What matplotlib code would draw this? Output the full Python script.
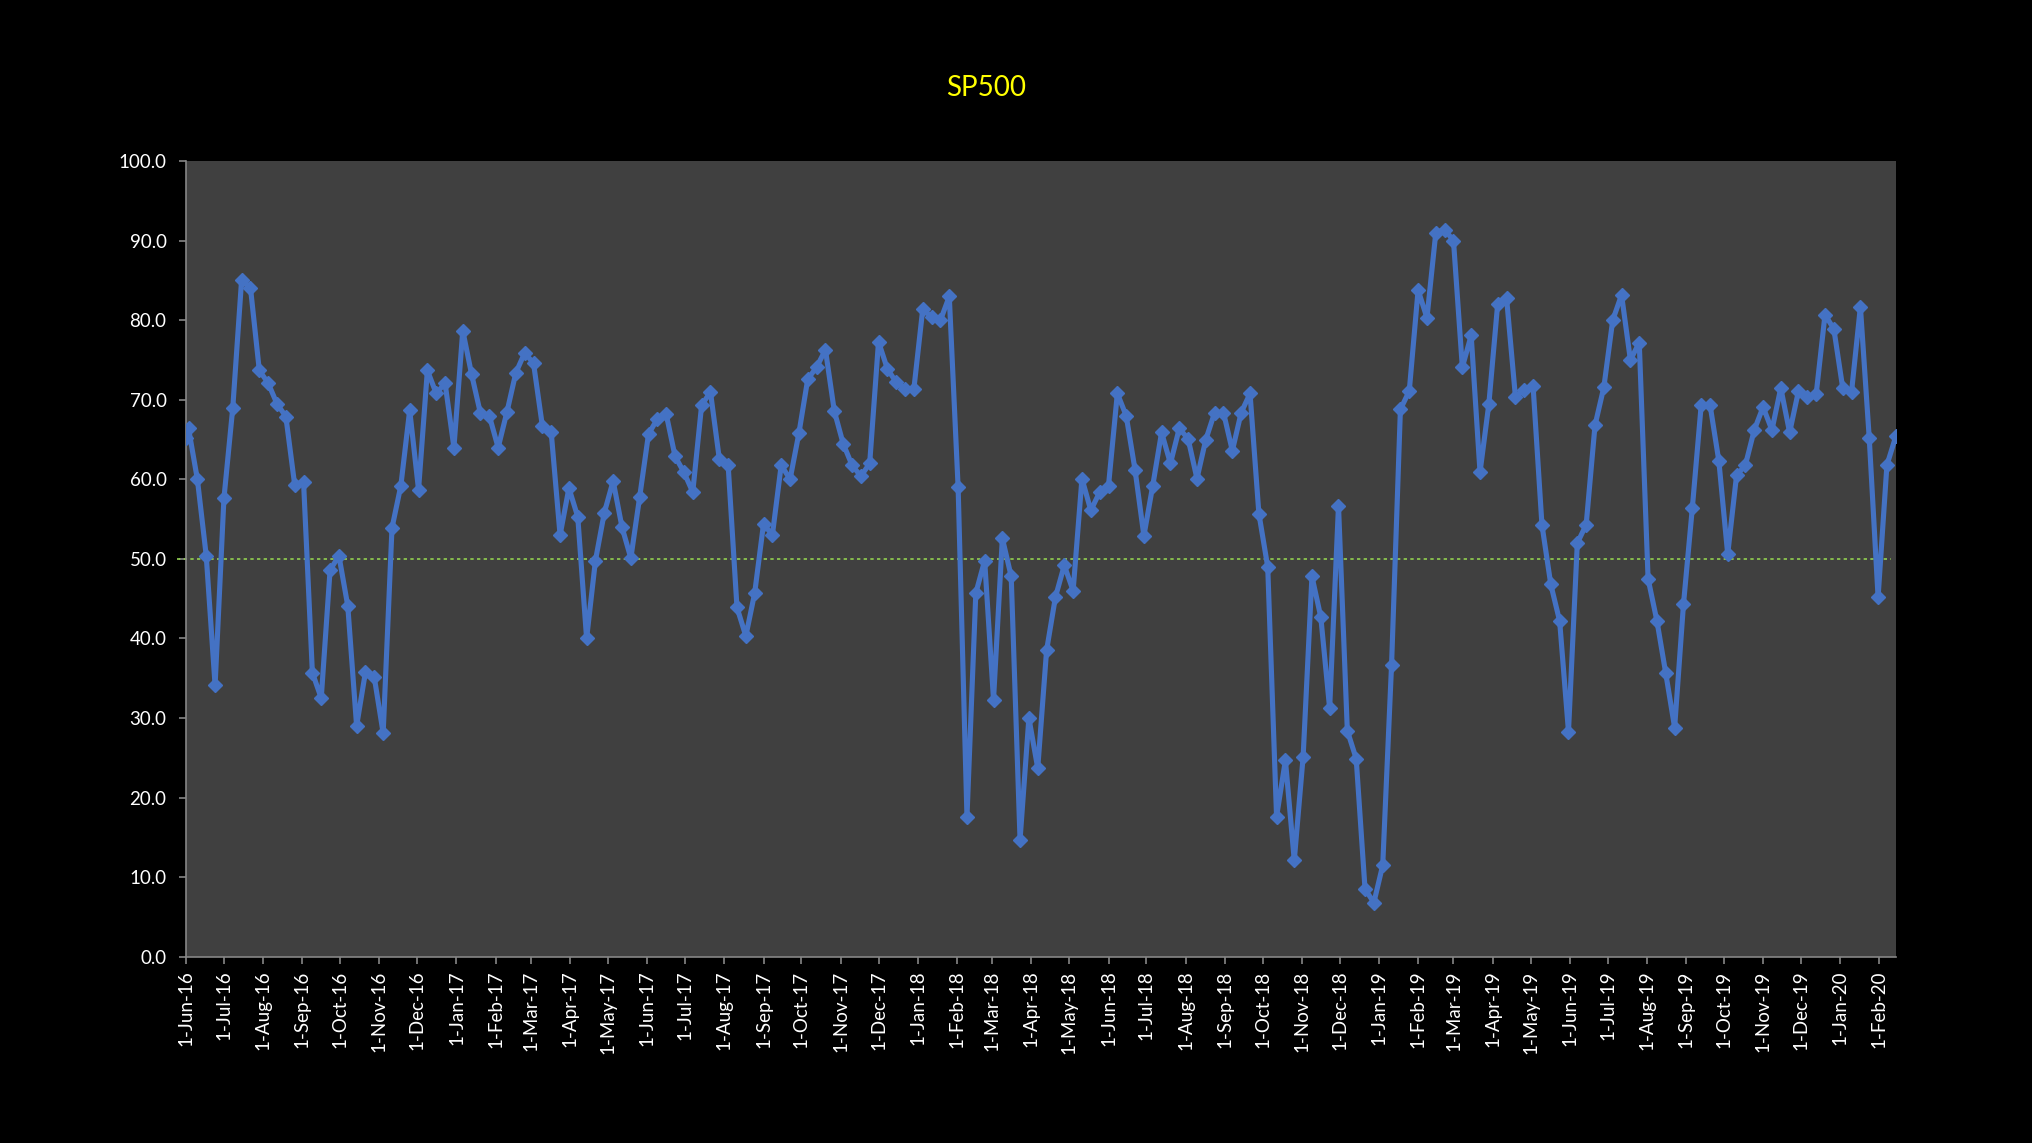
import pandas as pd
import numpy as np
import matplotlib
matplotlib.use("Agg")
import matplotlib.pyplot as plt
import matplotlib.dates as mdates
from matplotlib.ticker import FuncFormatter, MultipleLocator

plt.rcParams['font.family'] = ['Lato', 'DejaVu Sans']

# =============================================
# DATOS (lectura semanal, % de acciones)
# =============================================

primera_fecha = pd.Timestamp("2016-06-01")
fechas_semanales = pd.date_range("2016-06-03", periods=194, freq="7D")
fechas = pd.DatetimeIndex([primera_fecha]).append(fechas_semanales)

valores_2016 = [65.2, 66.4, 60.0, 50.4, 34.1, 57.6, 69.0, 85.1, 84.1, 73.7,
                72.1, 69.5, 67.9, 59.3, 59.7, 35.7, 32.5, 48.6, 50.4, 44.1,
                29.0, 35.8, 35.1, 28.1, 53.9, 59.2, 68.7, 58.7, 73.7, 70.8,
                72.1, 64.0]
valores_2017 = [78.7, 73.2, 68.3, 68.0, 64.0, 68.5, 73.4, 75.9, 74.6, 66.7,
                65.9, 53.0, 58.9, 55.3, 40.0, 49.8, 55.8, 59.8, 54.0, 50.1,
                57.8, 65.7, 67.6, 68.2, 62.9, 60.9, 58.4, 69.3, 71.0, 62.6,
                61.8, 43.9, 40.3, 45.7, 54.4, 53.0, 61.8, 60.0, 65.8, 72.6,
                74.1, 76.3, 68.6, 64.5, 61.8, 60.4, 62.0, 77.3, 73.9, 72.2,
                71.4, 71.4]
valores_2018 = [81.4, 80.4, 80.0, 83.0, 59.0, 17.6, 45.7, 49.8, 32.3, 52.6,
                47.8, 14.7, 30.0, 23.7, 38.5, 45.2, 49.2, 46.0, 60.1, 56.1,
                58.4, 59.2, 70.8, 68.0, 61.2, 52.9, 59.2, 65.9, 62.0, 66.4,
                65.1, 60.1, 65.0, 68.4, 68.4, 63.6, 68.4, 70.8, 55.7, 49.0,
                17.6, 24.7, 12.1, 25.1, 47.8, 42.7, 31.2, 56.7, 28.4, 24.9,
                8.5, 6.8]
valores_2019 = [11.5, 36.7, 68.8, 71.1, 83.8, 80.3, 91.0, 91.4, 90.0, 74.1,
                78.1, 60.9, 69.5, 82.1, 82.8, 70.4, 71.2, 71.7, 54.3, 46.8,
                42.2, 28.3, 52.0, 54.3, 66.8, 71.6, 80.0, 83.2, 75.0, 77.2,
                47.5, 42.2, 35.6, 28.8, 44.3, 56.4, 69.3, 69.4, 62.3, 50.6,
                60.5, 61.8, 66.2, 69.1, 66.2, 71.5, 65.9, 71.1, 70.4, 70.7,
                80.7, 78.9]
valores_2020 = [71.5, 71.0, 81.7, 65.2, 45.2, 61.8, 65.4]

valores = valores_2016 + valores_2017 + valores_2018 + valores_2019 + valores_2020
serie = pd.Series(valores, index=fechas)

titulo = "SP500"
nivel_referencia = 50.0

# =============================================
# GRÁFICO
# =============================================

fig = plt.figure(figsize=(20.33, 11.43), dpi=100, facecolor="black")
ax = fig.add_axes([0.0915, 0.163, 0.841, 0.696])
ax.set_facecolor("#404040")

ax.plot(serie.index, serie.values, color="#4472C4", linewidth=3.7,
        marker="D", markersize=7.5, markerfacecolor="#4472C4",
        markeredgecolor="#4472C4", zorder=3)

# línea de referencia en 50
ax.plot([-0.005, 0.9975], [nivel_referencia, nivel_referencia],
        transform=ax.get_yaxis_transform(), color="#92D050",
        linewidth=1.2, linestyle=(0, (2, 2)), clip_on=False, zorder=2)

ax.set_xlim(serie.index[0], serie.index[-1])
ax.set_ylim(0, 100)

ax.yaxis.set_major_locator(MultipleLocator(10))
ax.yaxis.set_major_formatter(FuncFormatter(lambda v, p: f"{v:.1f}"))

ax.xaxis.set_major_locator(mdates.MonthLocator(bymonthday=1))
ax.xaxis.set_major_formatter(
    FuncFormatter(lambda v, p: (lambda d: f"{d.day}-{d:%b-%y}")(mdates.num2date(v))))

for lado in ["top", "right"]:
    ax.spines[lado].set_visible(False)
for lado in ["left", "bottom"]:
    ax.spines[lado].set_color("#868686")
    ax.spines[lado].set_linewidth(1.2)

ax.tick_params(axis="y", colors="#868686", labelcolor="white", labelsize=13.5,
               length=5, width=1.2, pad=9)
ax.tick_params(axis="x", colors="#868686", labelcolor="white", labelsize=13.5,
               length=5, width=1.2, pad=5, labelrotation=90)

fig.text(0.485, 0.923, titulo, color="#FFFF00", fontsize=20,
         ha="center", va="center")

plt.savefig("out.png", dpi=100, facecolor="black")
